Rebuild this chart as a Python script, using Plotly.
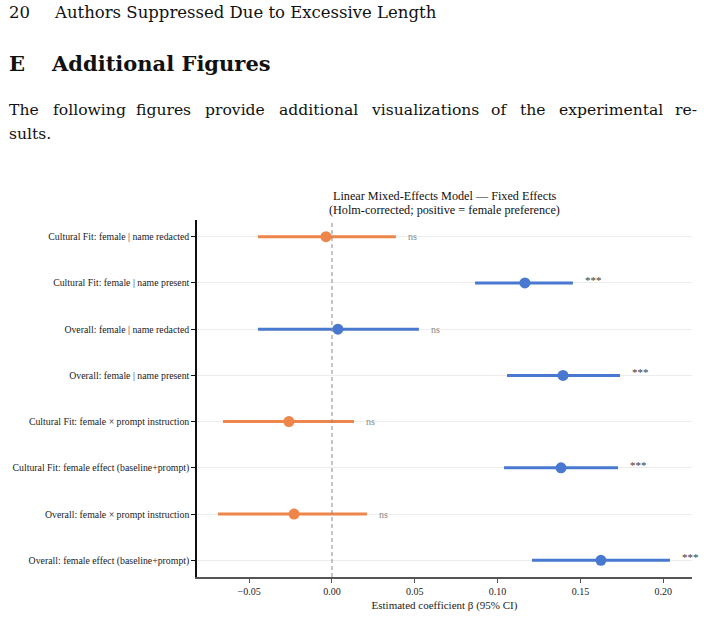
import plotly.graph_objects as go

terms = [
    "Cultural Fit: female | name redacted",
    "Cultural Fit: female | name present",
    "Overall: female | name redacted",
    "Overall: female | name present",
    "Cultural Fit: female × prompt instruction",
    "Cultural Fit: female effect (baseline+prompt)",
    "Overall: female × prompt instruction",
    "Overall: female effect (baseline+prompt)",
]
beta = [-0.0036, 0.1165, 0.0036, 0.1395, -0.0260, 0.1383, -0.0229, 0.1624]
ci_lo = [-0.0447, 0.0864, -0.0447, 0.1057, -0.0658, 0.1039, -0.0688, 0.1208]
ci_hi = [0.0386, 0.1455, 0.0525, 0.1739, 0.0133, 0.1727, 0.0211, 0.2041]
sig = ["ns", "***", "ns", "***", "ns", "***", "ns", "***"]
x_ticks = [-0.05, 0.0, 0.05, 0.10, 0.15, 0.20]

BLUE = "#4878D0"
ORANGE = "#EE854A"
SERIF = "Liberation Serif, Times New Roman, serif"
PAGE = "DejaVu Serif, serif"

W, H = 704, 643
ML, MR, MT, MB = 197, 12, 220, 66
PW, PH = W - ML - MR, H - MT - MB


def px(xp):
    return (xp - ML) / PW


def py(yp):
    return 1 - (yp - MT) / PH


fig = go.Figure()
for positive, color in [(True, BLUE), (False, ORANGE)]:
    idx = [i for i, b in enumerate(beta) if (b >= 0) == positive]
    fig.add_trace(go.Scatter(
        x=[beta[i] for i in idx],
        y=[terms[i] for i in idx],
        mode="markers",
        marker=dict(color=color, size=11, line=dict(width=0)),
        error_x=dict(type="data", symmetric=False,
                     array=[ci_hi[i] - beta[i] for i in idx],
                     arrayminus=[beta[i] - ci_lo[i] for i in idx],
                     color=color, thickness=3, width=0),
        showlegend=False,
        hoverinfo="skip",
    ))

for t, hi, s in zip(terms, ci_hi, sig):
    fig.add_annotation(
        x=hi + 0.0062, y=t, text=s, showarrow=False, xanchor="left",
        yanchor="middle", yshift=(3 if s == "***" else 0),
        font=dict(family=SERIF, size=10 if s == "ns" else 11,
                  color="#8a8a8a" if s == "ns" else "#3a3a3a"),
    )

# zero reference line
fig.add_shape(type="line", x0=0, x1=0, y0=0, y1=1, xref="x", yref="paper",
              line=dict(color="#8c8c8c", width=1, dash="4px,3px"), layer="above")

fig.update_xaxes(
    range=[-0.0815, 0.2174], tickvals=x_ticks,
    ticktext=["\u22120.05", "0.00", "0.05", "0.10", "0.15", "0.20"],
    showgrid=False, zeroline=False, showline=True, linecolor="#555555",
    linewidth=1.6, ticks="outside", ticklen=4, tickcolor="#555555",
    tickfont=dict(family=SERIF, size=10, color="#222"),
    title=dict(text="Estimated coefficient β (95% CI)",
               font=dict(family=SERIF, size=11, color="#222"), standoff=6),
)
fig.update_yaxes(
    categoryorder="array", categoryarray=terms, autorange=False,
    range=[7.36, -0.36],
    showgrid=True, gridcolor="#ececec", gridwidth=1, zeroline=False,
    showline=True, linecolor="#111111", linewidth=1.5,
    ticks="outside", ticklen=4, tickcolor="#111111",
    tickfont=dict(family=SERIF, size=9.8, color="#222"),
)

# page text around the figure
page = [
    dict(x=7, y=13, text="20", size=16.5),
    dict(x=52, y=13, text="Authors Suppressed Due to Excessive Length", size=16.5),
    dict(x=7, y=63, text="<b>E</b>", size=21),
    dict(x=49, y=63, text="<b>Additional Figures</b>", size=21),
    dict(x=7, y=134, text="sults.", size=15.6),
]
# justified first paragraph line: word start positions
para_words = ["The", "following", "figures", "provide", "additional",
              "visualizations", "of", "the", "experimental", "re-"]
para_x = [7, 51, 134, 203, 277, 369, 489, 518, 557, 673]
for w_, x_ in zip(para_words, para_x):
    page.append(dict(x=x_, y=110, text=w_, size=15.6))

for p in page:
    fig.add_annotation(x=px(p["x"]), y=py(p["y"]), xref="paper", yref="paper",
                       text=p["text"], showarrow=False, xanchor="left", yanchor="middle",
                       font=dict(family=PAGE, size=p["size"], color="#111"))

for yy, txt in [(196, "Linear Mixed-Effects Model — Fixed Effects"),
                (210, "(Holm-corrected; positive = female preference)")]:
    fig.add_annotation(
        x=0.5, xref="paper", y=py(yy), yref="paper", xanchor="center", yanchor="middle",
        text=txt, showarrow=False, font=dict(family=SERIF, size=12.2, color="#111"),
    )

fig.update_layout(
    width=W, height=H,
    margin=dict(l=ML, r=MR, t=MT, b=MB, pad=0),
    plot_bgcolor="white", paper_bgcolor="white",
)

fig.write_html("out.html")
